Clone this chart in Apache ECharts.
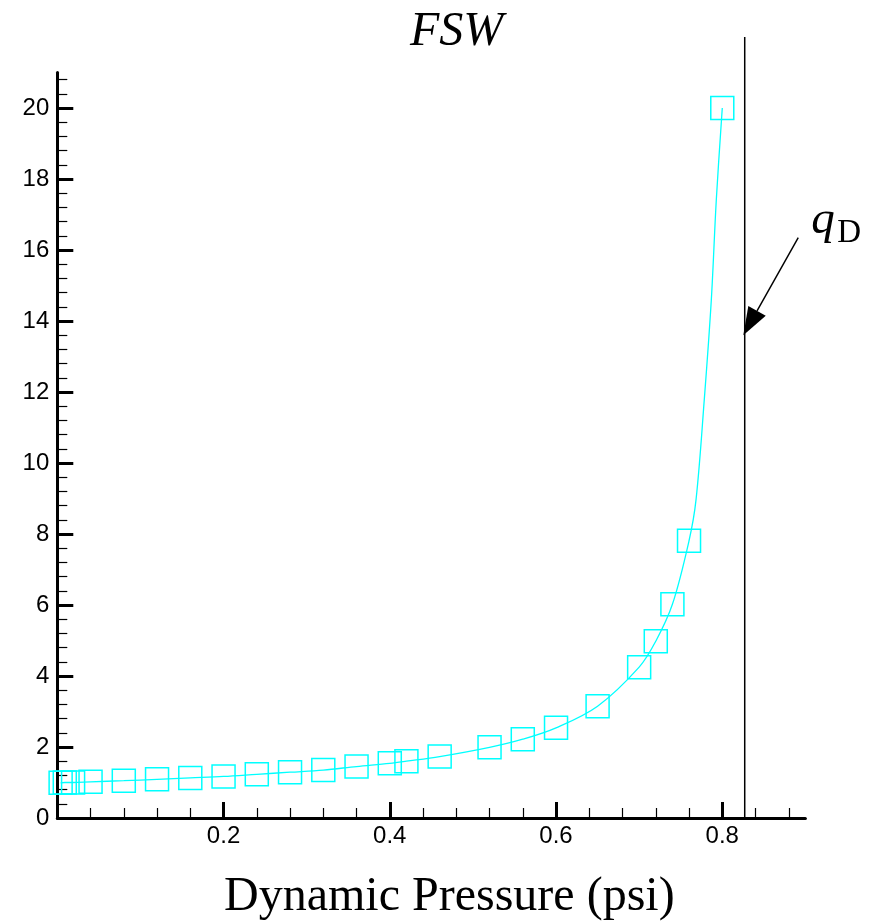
<!DOCTYPE html>
<html><head><meta charset="utf-8">
<script src="https://cdn.jsdelivr.net/npm/echarts@6/dist/echarts.min.js"></script>
<style>html,body{margin:0;padding:0;background:#fff}#c{width:882px;height:921px}</style>
</head><body><div id="c"></div>
<script>
// Marker data (Dynamic pressure, psi) vs ratio
const pressure = [0.004, 0.009, 0.019, 0.04, 0.08, 0.12, 0.16, 0.20, 0.24, 0.28, 0.32, 0.36, 0.40, 0.42, 0.46, 0.52, 0.56, 0.60, 0.65, 0.70, 0.72, 0.74, 0.76, 0.80];
const ratio    = [0.99, 1.00, 1.00, 1.02, 1.05, 1.09, 1.13, 1.17, 1.23, 1.29, 1.35, 1.45, 1.54, 1.60, 1.73, 1.99, 2.22, 2.54, 3.15, 4.25, 4.98, 6.02, 7.81, 20.0];
const curveExtraX = [0.7684, 0.7783, 0.7868, 0.7928];
const curveExtraY = [8.96, 11.77, 14.59, 17.41];
// Axis ticks
const xTickLabels = [0.2, 0.4, 0.6, 0.8];
const xMajorTicks = [0, 0.2, 0.4, 0.6, 0.8];
const yTickLabels = [0, 2, 4, 6, 8, 10, 12, 14, 16, 18, 20];
// Annotation: q_D line and arrow
const qD = 0.827;
const qDLineTop = 22;
const arrowTail = [0.8914, 16.35];
const arrowTip = [0.8253, 13.6];

const xMinor = [];
for (let i = 1; i <= 22; i++) if (i % 5 !== 0) xMinor.push(+(i * 0.04).toFixed(3));
const yMinor = [];
for (let i = 1; i <= 52; i++) if (i % 5 !== 0) yMinor.push(+(i * 0.4).toFixed(2));

const markerData = pressure.map((x, i) => [x, ratio[i]]);
const curveData = markerData.concat(curveExtraX.map((x, i) => [x, curveExtraY[i]])).sort((a, b) => a[0] - b[0]);

const chart = echarts.init(document.getElementById('c'), null, {renderer: 'canvas'});
const axisFont = 'Liberation Sans';
chart.setOption({
  animation: false,
  backgroundColor: '#fff',
  title: {
    text: 'FSW', left: 405, top: 3,
    textStyle: {fontFamily: 'Liberation Serif', fontStyle: 'italic', fontWeight: 'normal', fontSize: 48, color: '#000'}
  },
  grid: {left: 57.3, right: 76.6, top: 72.5, bottom: 103, outerBoundsMode: 'none', containLabel: false},
  xAxis: [{
    type: 'value', min: 0, max: 0.9, interval: 0.2, position: 'bottom',
    name: 'Dynamic Pressure (psi)', nameLocation: 'middle', nameGap: 55,
    nameTextStyle: {fontFamily: 'Liberation Serif', fontSize: 48, color: '#000', padding: [0, 0, 0, 36]},
    axisLine: {show: true, lineStyle: {color: '#000', width: 3}},
    axisTick: {show: true, inside: true, length: 16, lineStyle: {color: '#000', width: 3}, customValues: xMajorTicks},
    axisLabel: {show: true, margin: 6, fontFamily: axisFont, fontSize: 24, color: '#000', customValues: xTickLabels},
    splitLine: {show: false}
  }, {
    type: 'value', min: 0, max: 0.9, interval: 0.04, position: 'bottom',
    axisLine: {show: false},
    axisTick: {show: true, inside: true, length: 10, lineStyle: {color: '#000', width: 1.2}, customValues: xMinor},
    axisLabel: {show: false}, splitLine: {show: false}
  }],
  yAxis: [{
    type: 'value', min: 0, max: 21, interval: 2, position: 'left',
    axisLine: {show: true, lineStyle: {color: '#000', width: 3}},
    axisTick: {show: true, inside: true, length: 16, lineStyle: {color: '#000', width: 3}, customValues: yTickLabels},
    axisLabel: {show: true, margin: 8, fontFamily: axisFont, fontSize: 24, color: '#000', customValues: yTickLabels},
    splitLine: {show: false}
  }, {
    type: 'value', min: 0, max: 21, interval: 0.4, position: 'left',
    axisLine: {show: false},
    axisTick: {show: true, inside: true, length: 10, lineStyle: {color: '#000', width: 1.2}, customValues: yMinor},
    axisLabel: {show: false}, splitLine: {show: false}
  }],
  series: [{
    type: 'line', xAxisIndex: 0, yAxisIndex: 0,
    data: curveData, smooth: 0.35, showSymbol: false, symbol: 'none',
    lineStyle: {color: '#00ffff', width: 1.3}, silent: true, z: 2
  }, {
    type: 'scatter', xAxisIndex: 0, yAxisIndex: 0,
    data: markerData, symbol: 'rect', symbolSize: 23,
    itemStyle: {color: 'transparent', borderColor: '#00ffff', borderWidth: 1.5, opacity: 1},
    silent: true, z: 3
  }, {
    type: 'custom', xAxisIndex: 0, yAxisIndex: 0, clip: false, silent: true, z: 4,
    data: [[qD, 0]],
    renderItem: function (params, api) {
      const b = api.coord([qD, 0]);
      const t = api.coord([qD, qDLineTop]);
      const tail = api.coord(arrowTail), tip = api.coord(arrowTip);
      const dx = tip[0] - tail[0], dy = tip[1] - tail[1];
      const L = Math.hypot(dx, dy); const ux = dx / L, uy = dy / L;
      const headLen = 28, headHalf = 10;
      const bx = tip[0] - ux * headLen, by = tip[1] - uy * headLen;
      const px = -uy, py = ux;
      return {type: 'group', children: [
        {type: 'line', shape: {x1: b[0], y1: b[1], x2: t[0], y2: t[1]}, style: {stroke: '#000', lineWidth: 1.5}},
        {type: 'line', shape: {x1: tail[0], y1: tail[1], x2: bx, y2: by}, style: {stroke: '#000', lineWidth: 1.5}},
        {type: 'polygon', shape: {points: [[tip[0], tip[1]], [bx + px * headHalf, by + py * headHalf], [bx - px * headHalf, by - py * headHalf]]}, style: {fill: '#000'}},
        {type: 'text', x: tail[0] + 13, y: tail[1] - 17, style: {text: 'q', font: 'italic 47px "Liberation Serif"', fill: '#000', align: 'left', verticalAlign: 'middle'}},
        {type: 'text', x: tail[0] + 39, y: tail[1] - 4, style: {text: 'D', font: '33px "Liberation Serif"', fill: '#000', align: 'left', verticalAlign: 'middle'}}
      ]};
    }
  }]
});
</script>
</body></html>
